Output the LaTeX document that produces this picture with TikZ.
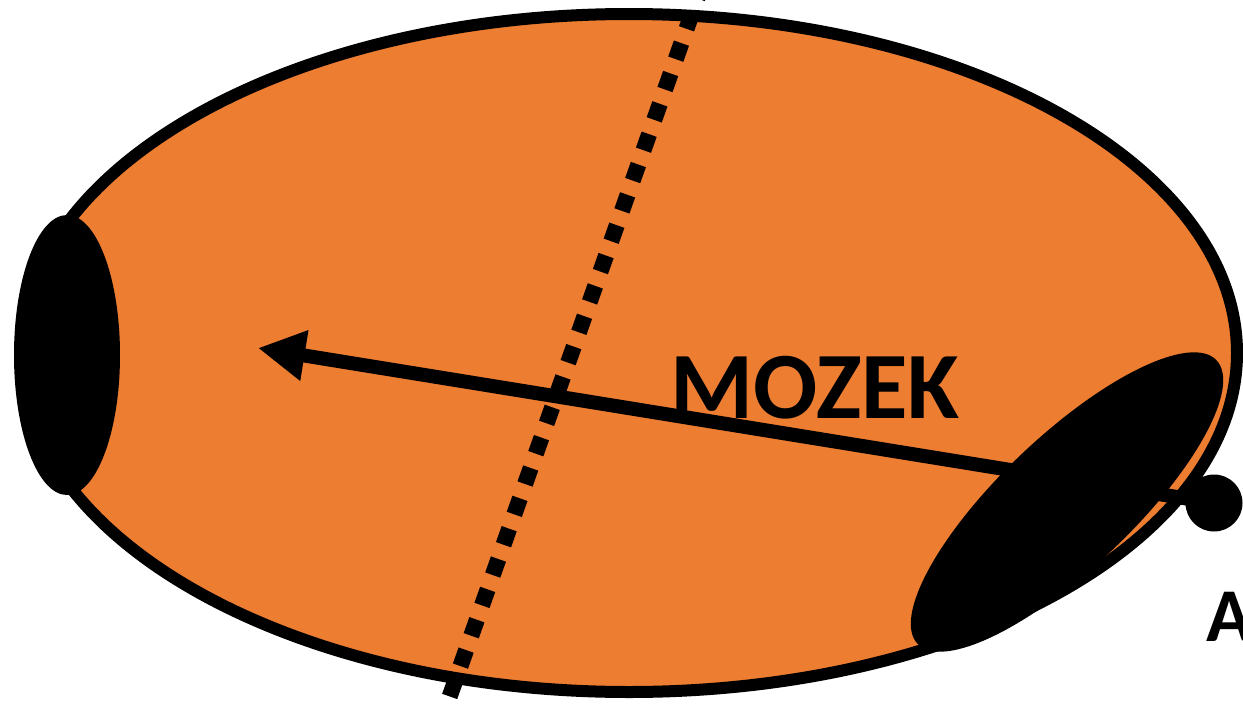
\documentclass[tikz,border=0pt]{standalone}
\usepackage{fontspec}
\setmainfont{Carlito}
\usetikzlibrary{arrows.meta}
\definecolor{brainorange}{RGB}{237,125,49}
\tikzset{
  blob/.style={fill=black},
  axisline/.style={line width=16pt, dash pattern=on 17pt off 15.2pt, dash phase=5.9pt, line cap=butt},
  pointer/.style={line width=14pt, -{Triangle[length=47pt,width=48pt]}},
  bigtext/.style={inner sep=0pt, font=\bfseries\fontsize{95}{104}\selectfont},
  labeltext/.style={inner sep=0pt, font=\bfseries\fontsize{76}{84}\selectfont}
}
\begin{document}
\begin{tikzpicture}[x=1pt,y=-1pt]
\useasboundingbox (0,0) rectangle (1243,704);
% brain body
\draw[line width=12pt, fill=brainorange] (629,353) ellipse [x radius=608, y radius=339];
% left black blob
\fill[blob] (67,355) ellipse [x radius=53, y radius=140];
% right black blob
\fill[blob, rotate around={43.5:(1067,502)}] (1067,502) ellipse [x radius=206, y radius=66];
% dotted axis
\coordinate (axtop) at (701,-12);
\coordinate (axbot) at (447,704);
\draw[axisline] (axtop) -- (axbot);
% point A and arrow
\node[circle, fill=black, minimum size=57pt, inner sep=0pt] (dot) at (1214,503) {};
\coordinate (tip) at (258,348);
\draw[pointer] (dot.center) -- (tip);
% labels
\node[bigtext] (mozek) at (815,388) {MOZEK};
\node[labeltext] (labA) at (1230,617) {A};
\end{tikzpicture}
\end{document}
